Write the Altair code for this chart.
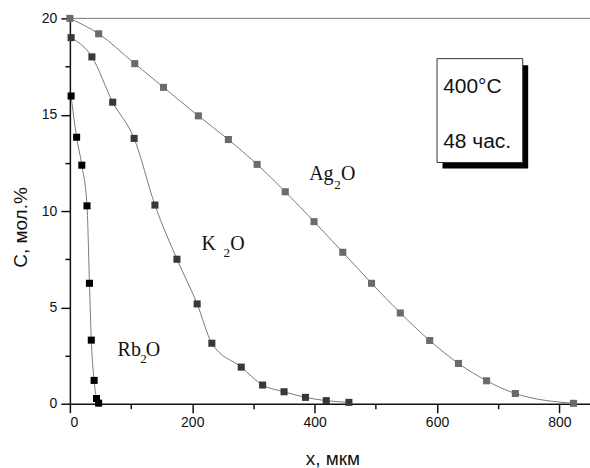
import altair as alt
import pandas as pd

# --- data ---
ag_x = [0, 47, 106, 153, 210, 259, 306, 352, 399, 446, 493, 540, 588, 635, 681, 728, 823]
ag_y = [20, 19.2, 17.65, 16.42, 14.94, 13.71, 12.42, 11.0, 9.45, 7.86, 6.25, 4.71, 3.28, 2.09, 1.19, 0.53, 0.02]
k_x = [2, 36, 70, 105, 139, 175, 208, 232, 280, 315, 350, 385, 419, 456]
k_y = [19.0, 18.0, 15.65, 13.77, 10.31, 7.5, 5.18, 3.14, 1.9, 0.97, 0.62, 0.33, 0.16, 0.07]
rb_x = [2, 11, 19.5, 28, 32, 35, 39.6, 43.5, 47]
rb_y = [15.97, 13.83, 12.38, 10.27, 6.25, 3.3, 1.21, 0.27, 0.03]

series_names = ["Ag2O", "K2O", "Rb2O"]
series_colors = ["#6b6b6b", "#383838", "#000000"]

x_ticks = [0, 100, 200, 300, 400, 500, 600, 700, 800]
y_ticks = [0, 2.5, 5, 7.5, 10, 12.5, 15, 17.5, 20]

# labels (main part, subscript, tail)
lab_main = ["Ag", "K", "Rb"]
lab_main_x = [391, 215, 78]
lab_main_y = [11.61, 7.98, 2.49]
lab_sub = ["2", "2", "2"]
lab_sub_x = [432, 251, 115]
lab_sub_y = [11.14, 7.63, 2.11]
lab_tail = ["O", "O", "O"]
lab_tail_x = [443, 262, 124]

box_x = [600]; box_x2 = [740]; box_y = [17.91]; box_y2 = [12.52]
shadow_x = [609]; shadow_x2 = [749]; shadow_y = [17.57]; shadow_y2 = [12.21]
box_text = ["400°C", "48 час."]
box_text_x = [610, 610]
box_text_y = [16.13, 13.25]

rows = []
for name, xs, ys in zip(series_names, [ag_x, k_x, rb_x], [ag_y, k_y, rb_y]):
    for a, b in zip(xs, ys):
        rows.append({"series": name, "x": a, "y": b})
df = pd.DataFrame(rows)

xscale = alt.Scale(domain=[0, 850], nice=False, zero=False)
yscale = alt.Scale(domain=[0, 20], nice=False, zero=False)
color = alt.Color("series:N", scale=alt.Scale(domain=series_names, range=series_colors), legend=None)

base = alt.Chart(df)

lines = base.mark_line(interpolate="monotone", color="#7a7a7a", strokeWidth=1).encode(
    x=alt.X("x:Q", scale=xscale, axis=alt.Axis(
        values=x_ticks,
        tickSize={"condition": {"test": "datum.value % 200 === 0", "value": 9}, "value": 5},
        labelExpr="datum.value % 200 === 0 ? datum.label : ''",
        tickWidth=1.5, domainWidth=1.5, labelPadding=3,
        title="x, мкм", titleX=263, titleY=55, titleBaseline="middle", orient="bottom")),
    y=alt.Y("y:Q", scale=yscale, axis=alt.Axis(
        values=y_ticks,
        tickSize={"condition": {"test": "datum.value % 5 === 0", "value": 9}, "value": 5},
        labelExpr="datum.value % 5 === 0 ? datum.label : ''",
        tickWidth=1.5, domainWidth=1.5, labelPadding=4,
        title="C, мол.%", titleX=-49, titleY=209, titleBaseline="middle", titleAlign="center",
        titleAngle=-90, orient="left")),
    detail="series:N",
)

points = base.mark_square(size=50, opacity=1).encode(
    x=alt.X("x:Q", scale=xscale),
    y=alt.Y("y:Q", scale=yscale),
    color=color,
)

top_rule = alt.Chart(pd.DataFrame({"a": [0]})).mark_rule(color="#777777", strokeWidth=1).encode(
    y=alt.value(0)
)

lab_df_main = pd.DataFrame({"t": lab_main, "x": lab_main_x, "y": lab_main_y})
lab_df_sub = pd.DataFrame({"t": lab_sub, "x": lab_sub_x, "y": lab_sub_y})
lab_df_tail = pd.DataFrame({"t": lab_tail, "x": lab_tail_x, "y": lab_main_y})

def text_layer(d, size, font):
    return alt.Chart(d).mark_text(align="left", baseline="alphabetic", fontSize=size,
                                  font=font, color="#111111").encode(
        x=alt.X("x:Q", scale=xscale),
        y=alt.Y("y:Q", scale=yscale),
        text="t:N",
    )

t_main = text_layer(lab_df_main, 20, "Liberation Serif")
t_sub = text_layer(lab_df_sub, 13, "Liberation Serif")
t_tail = text_layer(lab_df_tail, 20, "Liberation Serif")

shadow = alt.Chart(pd.DataFrame({"x": shadow_x, "x2": shadow_x2, "y": shadow_y, "y2": shadow_y2})).mark_rect(
    color="#000000").encode(
    x=alt.X("x:Q", scale=xscale), x2="x2:Q",
    y=alt.Y("y:Q", scale=yscale), y2="y2:Q",
)
box = alt.Chart(pd.DataFrame({"x": box_x, "x2": box_x2, "y": box_y, "y2": box_y2})).mark_rect(
    fill="#ffffff", stroke="#333333", strokeWidth=1).encode(
    x=alt.X("x:Q", scale=xscale), x2="x2:Q",
    y=alt.Y("y:Q", scale=yscale), y2="y2:Q",
)
box_txt = alt.Chart(pd.DataFrame({"t": box_text, "x": box_text_x, "y": box_text_y})).mark_text(
    align="left", baseline="alphabetic", fontSize=21, font="Liberation Sans", color="#111111").encode(
    x=alt.X("x:Q", scale=xscale),
    y=alt.Y("y:Q", scale=yscale),
    text="t:N",
)

chart = alt.layer(
    top_rule, lines, points, t_main, t_sub, t_tail, shadow, box, box_txt
).properties(
    width=521, height=386,
    padding={"left": 70, "top": 18, "right": 0, "bottom": 64},
    autosize="none",
    background="white",
).configure_view(stroke=None).configure_axis(
    grid=False,
    labelFont="Liberation Sans", labelFontSize=14, labelColor="#111111",
    titleFont="Liberation Sans", titleFontSize=19, titleFontWeight="normal", titleColor="#111111",
    domainColor="#111111", tickColor="#111111",
)

chart.save("out.html", embed_options={"renderer": "svg", "actions": False})
